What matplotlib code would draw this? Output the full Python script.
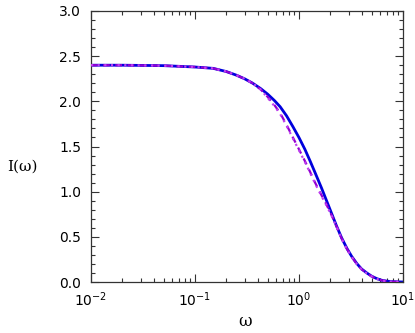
import numpy as np
import matplotlib
matplotlib.use("Agg")
import matplotlib.pyplot as plt
from matplotlib.ticker import MultipleLocator, LogLocator, NullFormatter

plt.rcParams["font.family"] = "DejaVu Sans"
plt.rcParams["mathtext.default"] = "regular"

# values
omega = [0.01, 0.02, 0.05, 0.1, 0.15, 0.2, 0.25, 0.3, 0.36, 0.43, 0.5, 0.58,
         0.66, 0.76, 0.875, 1.0, 1.14, 1.28, 1.43, 1.65, 1.8, 2.06, 2.3, 2.57,
         2.9, 3.21, 3.6, 4.0, 4.5, 5.0, 5.6, 6.24, 7.0, 8.0, 9.0, 10.0]

I_exact = [2.40, 2.40, 2.395, 2.38, 2.365, 2.33, 2.29, 2.25, 2.20, 2.14, 2.08, 2.01,
           1.94, 1.84, 1.72, 1.60, 1.47, 1.34, 1.21, 1.04, 0.93, 0.76, 0.62, 0.49,
           0.37, 0.285, 0.205, 0.145, 0.10, 0.065, 0.038, 0.02, 0.01, 0.004, 0.002, 0.001]

I_dash = [2.40, 2.40, 2.395, 2.38, 2.365, 2.33, 2.29, 2.25, 2.20, 2.13, 2.05, 1.96,
          1.87, 1.74, 1.60, 1.47, 1.34, 1.22, 1.10, 0.96, 0.88, 0.74, 0.615, 0.485,
          0.365, 0.28, 0.20, 0.142, 0.097, 0.063, 0.036, 0.019, 0.009, 0.004, 0.002, 0.001]

I_dot = [2.40, 2.40, 2.395, 2.38, 2.365, 2.33, 2.29, 2.25, 2.20, 2.13, 2.04, 1.95,
         1.86, 1.73, 1.59, 1.46, 1.33, 1.21, 1.09, 0.95, 0.87, 0.735, 0.61, 0.48,
         0.36, 0.277, 0.198, 0.14, 0.095, 0.062, 0.035, 0.018, 0.009, 0.004, 0.002, 0.001]

fig = plt.figure(figsize=(4.15, 3.33), dpi=100)
ax = fig.add_axes([0.219, 0.153, 0.752, 0.814])

ax.plot(omega, I_exact, color="#0000dd", lw=2.0, zorder=2)
ax.plot(omega, I_dash, color="#9400d3", lw=1.6, ls=(0, (3, 2.5)), zorder=3)
ax.plot(omega, I_dot, color="#c040f0", lw=1.6, ls=(0, (1, 2)), zorder=3)

ax.set_xscale("log")
ax.set_xlim(1e-2, 1e1)
ax.set_ylim(0, 3.0)

ax.yaxis.set_major_locator(MultipleLocator(0.5))
ax.yaxis.set_minor_locator(MultipleLocator(0.1))
ax.xaxis.set_major_locator(LogLocator(base=10))
ax.xaxis.set_minor_locator(LogLocator(base=10, subs=np.arange(2, 10)))
ax.xaxis.set_minor_formatter(NullFormatter())
ax.yaxis.set_major_formatter(plt.FormatStrFormatter("%.1f"))

ax.tick_params(which="both", direction="in", top=True, right=True,
               labelsize=10, color="#333333")
ax.tick_params(which="major", length=6, width=0.8)
ax.tick_params(which="minor", length=3, width=0.8)
ax.tick_params(axis="x", pad=6)
ax.tick_params(axis="y", pad=7)
for s in ax.spines.values():
    s.set_color("#333333")
    s.set_linewidth(0.9)

fig.text(0.053, 0.50, "I(\u03c9)", fontsize=11, family="DejaVu Serif",
         ha="center", va="center")
fig.text(0.59, 0.035, "\u03c9", fontsize=12, family="DejaVu Serif",
         ha="center", va="center")

fig.savefig("out.png", dpi=100)
